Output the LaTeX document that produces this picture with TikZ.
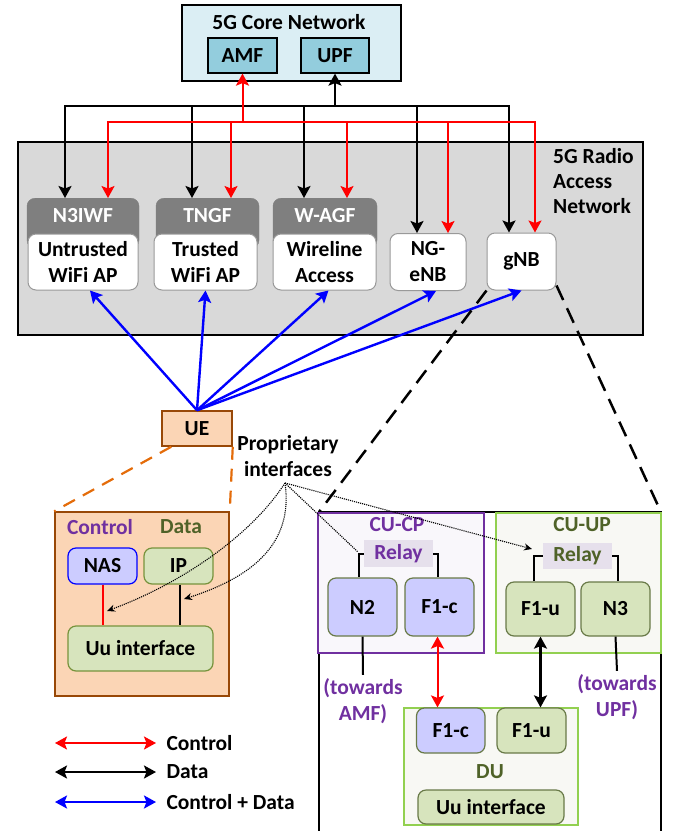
\documentclass[tikz,border=0pt]{standalone}
\usepackage{fontspec}
\setmainfont{Carlito}
\usetikzlibrary{arrows.meta,calc}
\definecolor{corefill}{HTML}{DBEEF4}
\definecolor{nffill}{HTML}{93CDDD}
\definecolor{ranfill}{HTML}{D9D9D9}
\definecolor{gwfill}{HTML}{7F7F7F}
\definecolor{uefill}{HTML}{FBD5B5}
\definecolor{uedraw}{HTML}{984807}
\definecolor{uedash}{HTML}{E46C0A}
\definecolor{cpfill}{HTML}{CCCCFF}
\definecolor{upfill}{HTML}{D7E4BD}
\definecolor{updraw}{HTML}{77933C}
\definecolor{dgreen}{HTML}{4F6228}
\definecolor{purp}{HTML}{7030A0}
\definecolor{relayfill}{HTML}{E6E0EC}
\definecolor{cudraw}{HTML}{92D050}
\definecolor{cufill}{HTML}{F8F8F4}
\definecolor{cpbox}{HTML}{F9F7FB}
\tikzset{
  box/.style={draw, inner sep=0pt, align=center},
  rbox/.style={box, rounded corners=8pt},
  gwhead/.style={rbox, fill=gwfill, draw=gwfill, text=white, text height=24pt, text depth=26pt},
  rnode/.style={rbox, fill=white, draw=black!40, line width=1pt},
  cpnode/.style={rbox, fill=cpfill, draw=dgreen!85, line width=1.2pt},
  upnode/.style={rbox, fill=upfill, draw=dgreen!85, line width=1.2pt},
  relay/.style={inner sep=0pt, fill=relayfill},
  ctrlline/.style={red, line width=2pt},
  dataline/.style={black, line width=2.2pt},
  cdline/.style={blue, line width=2.4pt},
  zoomline/.style={line width=2.5pt, dash pattern=on 16pt off 9pt},
  uezoom/.style={uedash, line width=2.2pt, dash pattern=on 13pt off 9pt},
  propline/.style={densely dotted, line width=1.1pt},
  proptip/.style={-{Stealth[length=8pt,width=7pt]}},
  brkt/.style={line width=2pt},
  >={Stealth[length=12pt,width=13pt,inset=2.5pt]}
}

\begin{document}
\begin{tikzpicture}[x=1pt,y=-1pt,font=\fontsize{21.5}{26}\selectfont\bfseries]
\useasboundingbox (0,0) rectangle (673,831);

% core network
\node[box, fill=corefill, line width=1.2pt, minimum width=219pt, minimum height=76pt] (core) at (291.5,43) {};
\node (coret) at (289,22) {5G Core Network};
\node[box, fill=nffill, line width=1.2pt, minimum width=69pt, minimum height=35pt] (amf) at (242.5,55.5) {AMF};
\node[box, fill=nffill, line width=1.2pt, minimum width=68pt, minimum height=35pt] (upf) at (335,55.5) {UPF};

% radio access network
\node[box, fill=ranfill, line width=1.5pt, minimum width=625pt, minimum height=193pt] (ran) at (330.5,238.5) {};
\node[align=left, anchor=north west, inner sep=0pt, font=\fontsize{21.5}{25}\selectfont\bfseries] (rant) at (553,148) {5G Radio\\Access\\Network};

\node[gwhead, minimum width=112pt, anchor=north] (n3iwf) at (83,198) {N3IWF};
\node[gwhead, minimum width=103pt, anchor=north] (tngf) at (207.5,198) {TNGF};
\node[gwhead, minimum width=104pt, anchor=north] (wagf) at (325,198) {W-AGF};

\node[rnode, minimum width=110pt, minimum height=56pt] (untr) at (83,262) {Untrusted\\WiFi AP};
\node[rnode, minimum width=103pt, minimum height=56pt] (trus) at (205.5,262) {Trusted\\WiFi AP};
\node[rnode, minimum width=103pt, minimum height=56pt] (wire) at (324.5,262) {Wireline\\Access};
\node[rnode, minimum width=76pt, minimum height=57pt] (ngenb) at (428,262) {NG-\\eNB};
\node[rnode, minimum width=69pt, minimum height=57pt] (gnb) at (521.5,261.5) {gNB};

% buses to the core
\coordinate (dbusl) at (65,106);
\coordinate (dbusr) at (509,106);
\coordinate (cbusl) at (108,122);
\coordinate (cbusr) at (535,122);
\draw[dataline, line cap=rect] (dbusl) -- (dbusr);
\draw[dataline, ->] (upf.south |- dbusl) -- (upf.south);
\foreach \x/\t in {65/n3iwf,192/tngf,304/wagf,417/ngenb,509/gnb}{
  \coordinate (dtap) at (\x,106);
  \draw[dataline, ->] (dtap) -- (dtap |- \t.north);
}
\draw[ctrlline, line cap=rect] (cbusl) -- (cbusr);
\draw[ctrlline, ->] (amf.south |- cbusl) -- (amf.south);
\foreach \x/\t in {108/n3iwf,231/tngf,347/wagf,448/ngenb,535/gnb}{
  \coordinate (ctap) at (\x,122);
  \draw[ctrlline, ->] (ctap) -- (ctap |- \t.north);
}

% UE
\node[box, fill=uefill, draw=uedraw, line width=1.5pt, minimum width=70pt, minimum height=35pt] (ue) at (197,428.5) {UE};
\draw[cdline, ->] (ue.north) -- ([xshift=7pt]untr.south);
\draw[cdline, ->] (ue.north) -- (trus.south);
\draw[cdline, ->] (ue.north) -- ([xshift=4pt]wire.south);
\draw[cdline, ->] (ue.north) -- ([xshift=8pt]ngenb.south);
\draw[cdline, ->] (ue.north) -- (gnb.south);

\node[box, fill=uefill, draw=uedraw, line width=1.5pt, minimum width=174pt, minimum height=184pt] (uebig) at (142,604) {};
\draw[uezoom] ([xshift=10pt]ue.south west) -- (uebig.north west);
\draw[uezoom] (ue.south east) -- (uebig.north east);
\node[text=purp] (uectl) at (100,527) {Control};
\node[text=dgreen] (uedata) at (181,527) {Data};
\node[rbox, fill=cpfill, draw=blue, line width=1.2pt, minimum width=69pt, minimum height=36pt] (nas) at (102.5,566) {NAS};
\node[rbox, fill=upfill, draw=updraw, line width=1.2pt, minimum width=69pt, minimum height=36pt] (ip) at (178.5,566) {IP};
\node[rbox, fill=upfill, draw=updraw, line width=1.2pt, minimum width=145pt, minimum height=45pt] (uu) at (140.5,648.5) {Uu interface};
\draw[ctrlline] (nas.south) -- (nas.south |- uu.north);
\draw[dataline] ([xshift=1.5pt]ip.south) -- ([xshift=1.5pt]ip.south |- uu.north);

% gNB split
\coordinate (gtl) at (319,512);
\coordinate (gtr) at (661,512);
\draw[line width=2pt] (319,831) -- (gtl) -- (gtr) -- (661,831);
\draw[zoomline] (gnb.south west) -- (gtl);
\draw[zoomline] ([yshift=5pt]gnb.south east) -- (gtr);

\node[box, fill=cpbox, draw=purp, line width=1.2pt, minimum width=166pt, minimum height=140pt] (cucp) at (401,583) {};
\node[text=purp] (cucpt) at (397,525) {CU-CP};
\node[relay, text=purp, minimum width=69pt, minimum height=27pt] (relaycp) at (398.5,553.5) {Relay};
\node[cpnode, minimum width=69pt, minimum height=58pt] (n2) at (362.5,607) {N2};
\node[cpnode, minimum width=69pt, minimum height=58pt] (f1c) at (439.5,607) {F1-c};
\draw[brkt] (relaycp.west) -| ([xshift=-4pt]n2.north);
\draw[brkt] (relaycp.east) -| ([xshift=-2pt]f1c.north);

\node[box, fill=cufill, draw=cudraw, line width=1.2pt, minimum width=165pt, minimum height=140pt] (cuup) at (578.5,583) {};
\node[text=dgreen] (cuupt) at (582,525) {CU-UP};
\node[relay, text=dgreen, minimum width=69pt, minimum height=26pt] (relayup) at (577.5,556) {Relay};
\node[upnode, minimum width=69pt, minimum height=54pt] (f1u) at (540.5,609) {F1-u};
\node[upnode, minimum width=69pt, minimum height=54pt] (n3) at (615.5,609) {N3};
\draw[brkt] (relayup.west) -| ([xshift=-6.5pt]f1u.north);
\draw[brkt] (relayup.east) -| ([xshift=2.5pt]n3.north);

\node[text=purp, align=center] (toamf) at (363,701) {(towards\\AMF)};
\node[text=purp, align=center] (toupf) at (617,697) {(towards\\UPF)};
\draw[brkt] (n2.south) -- (toamf.north);
\draw[brkt] (n3.south) -- (toupf.north);

\node[box, fill=cufill, draw=cudraw, line width=1.2pt, minimum width=174pt, minimum height=117pt] (du) at (491,766.5) {};
\node[cpnode, minimum width=68.5pt, minimum height=45pt] (duf1c) at (450.75,730.5) {F1-c};
\node[upnode, minimum width=69pt, minimum height=45pt] (duf1u) at (531.5,730.5) {F1-u};
\node[text=dgreen] (dut) at (490,772) {DU};
\node[upnode, minimum width=146pt, minimum height=34pt] (duuu) at (491,807) {Uu interface};
\draw[ctrlline, <->] ([xshift=-2pt]f1c.south) -- ([xshift=-2pt]f1c.south |- duf1c.north);
\draw[dataline, <->] (f1u.south) -- (f1u.south |- duf1u.north);

% proprietary interfaces
\node[align=center] (prop) at (288,456) {Proprietary\\interfaces};
\coordinate (pf) at (285,483);
\coordinate (pnas) at (107,611);
\coordinate (pip) at (184,599);
\coordinate (pcp) at (358,552);
\coordinate (pup) at (532,549);
\draw[propline, proptip] (pf) .. controls (255,530) and (190,580) .. (pnas);
\draw[propline, proptip] (pf) .. controls (294,545) and (250,578) .. (pip);
\draw[propline] (pf) -- (pcp);
\draw[propline, proptip] (pf) -- (pup);

% legend
\foreach \y/\s/\t [count=\i] in {743/ctrlline/Control,772/dataline/Data,802/cdline/Control + Data}{
  \coordinate (lga\i) at (55,\y);
  \coordinate (lgb\i) at (156,\y);
  \draw[\s, <->] (lga\i) -- (lgb\i);
  \node[anchor=west] (lgt\i) at (163,\y) {\t};
}
\end{tikzpicture}
\end{document}
